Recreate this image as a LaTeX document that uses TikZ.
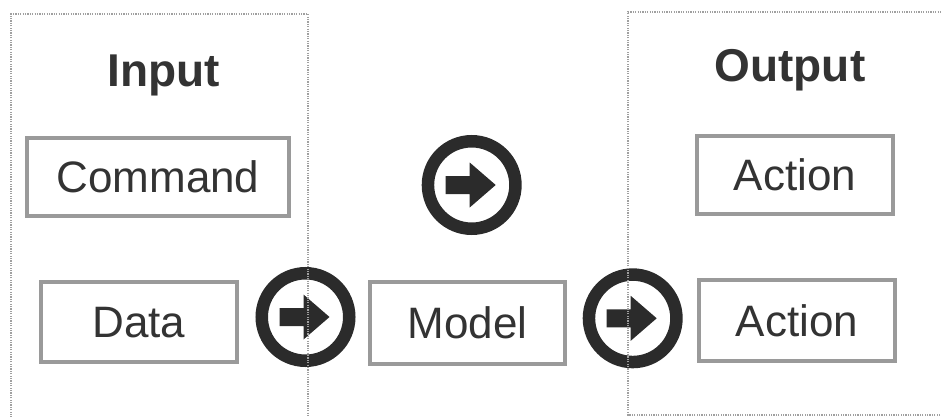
\documentclass[tikz,border=0pt]{standalone}
\usepackage{fontspec}
\setmainfont{Liberation Sans}
\definecolor{boxgray}{HTML}{9A9A9A}
\definecolor{ink}{HTML}{2B2B2B}
\definecolor{txt}{HTML}{333333}
\definecolor{dotgray}{HTML}{A0A0A0}
\tikzset{
  itembox/.style={draw=boxgray, line width=4pt, fill=white, inner sep=0pt,
    text=txt, font=\fontsize{44}{50}\selectfont, text height=31.5pt, text depth=0pt},
  titletext/.style={inner sep=0pt, text=txt, font=\fontsize{46}{52}\selectfont\bfseries,
    text height=33pt, text depth=0pt},
  ring/.style={circle, draw=ink, line width=12.5pt, minimum size=87.5pt, inner sep=0pt},
  panel/.style={draw=dotgray, line width=1.3pt, dash pattern=on 1.2pt off 1.2pt},
  arrowfill/.style={fill=ink},
}
\begin{document}
\begin{tikzpicture}[x=1pt,y=-1pt]
\useasboundingbox (0,0) rectangle (941,417);
% circles with arrows
\node[ring] (c1) at (305.5,317) {};
\node[ring] (c2) at (471.7,185) {};
\node[ring] (c3) at (632.7,318.3) {};
\foreach \c in {c1,c2,c3}{
  \fill[arrowfill,shift={(\c.center)}] (-26,-9) -- (-2,-9) -- (-2,-22.5) -- (24,0) -- (-2,22.5) -- (-2,9) -- (-26,9) -- cycle;
}
% titles
\node[titletext] (input) at (164,70.5) {Input};
\node[titletext] (output) at (790,65) {Output};
% boxes
\node[itembox, minimum width=262pt, minimum height=78pt] (command) at (158,177) {Command};
\node[itembox, minimum width=196pt, minimum height=80pt] (data) at (139,322) {Data};
\node[itembox, minimum width=195pt, minimum height=82pt] (model) at (467.5,323) {Model};
\node[itembox, minimum width=196pt, minimum height=78pt] (action1) at (795,175) {Action};
\node[itembox, minimum width=196pt, minimum height=81pt] (action2) at (797,320.5) {Action};
% dotted panels
\draw[panel] (11,420) -- (11,14) -- (308,14) -- (308,420);
\draw[panel] (945,415) -- (628,415) -- (628,12) -- (945,12);
\end{tikzpicture}
\end{document}
